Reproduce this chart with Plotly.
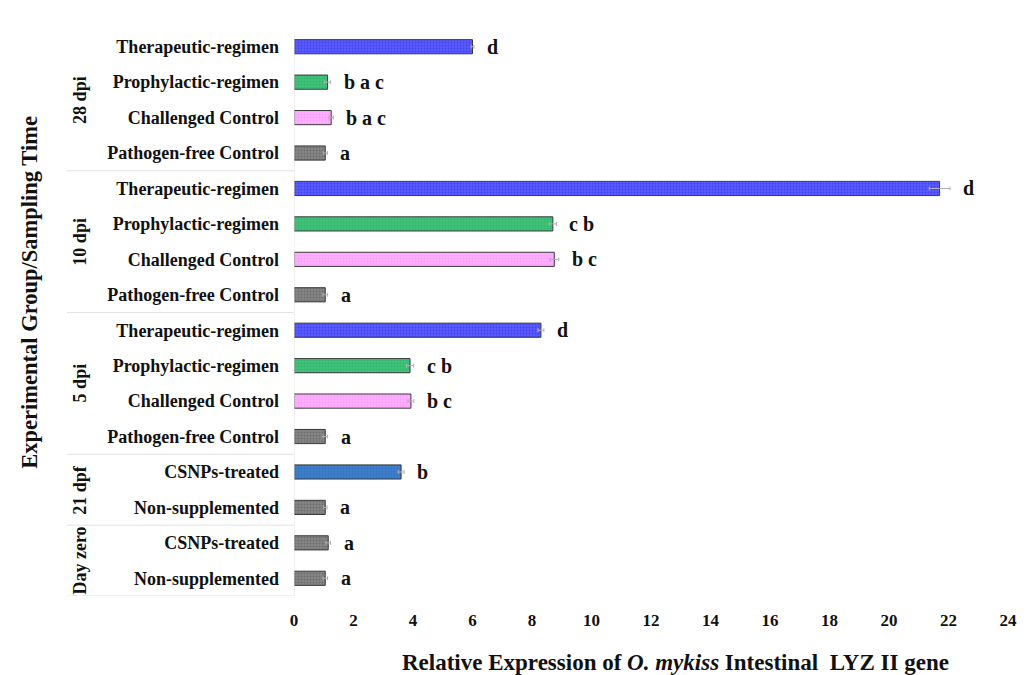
import plotly.graph_objects as go

# Rows listed bottom-to-top
groups = ["Day zero", "Day zero", "21 dpf", "21 dpf",
          "5 dpi", "5 dpi", "5 dpi", "5 dpi",
          "10 dpi", "10 dpi", "10 dpi", "10 dpi",
          "28 dpi", "28 dpi", "28 dpi", "28 dpi"]
treatments = ["Non-supplemented", "CSNPs-treated", "Non-supplemented", "CSNPs-treated",
              "Pathogen-free Control", "Challenged Control", "Prophylactic-regimen", "Therapeutic-regimen",
              "Pathogen-free Control", "Challenged Control", "Prophylactic-regimen", "Therapeutic-regimen",
              "Pathogen-free Control", "Challenged Control", "Prophylactic-regimen", "Therapeutic-regimen"]
expression = [1.05, 1.15, 1.05, 3.6,
              1.05, 3.93, 3.9, 8.3,
              1.05, 8.75, 8.7, 21.7,
              1.05, 1.25, 1.13, 6.0]
errors = [0.08, 0.08, 0.06, 0.1,
          0.08, 0.1, 0.12, 0.1,
          0.08, 0.15, 0.12, 0.35,
          0.07, 0.07, 0.1, 0.05]
letters = ["a", "a", "a", "b",
           "a", "b c", "c b", "d",
           "a", "b c", "c b", "d",
           "a", "b a c", "b a c", "d"]
styles = ["gray", "gray", "gray", "csnp",
          "gray", "pink", "green", "blue",
          "gray", "pink", "green", "blue",
          "gray", "pink", "green", "blue"]
x_ticks = [0, 2, 4, 6, 8, 10, 12, 14, 16, 18, 20, 22, 24]

palette = {
    "gray":  dict(color="#858585", fg="#555555"),
    "pink":  dict(color="#ffaeff", fg="#f090f0"),
    "green": dict(color="#3fc27a", fg="#2ea864"),
    "blue":  dict(color="#5a5cff", fg="#2a2ae0"),
    "csnp":  dict(color="#3d7fcc", fg="#2a64b0"),
}

SERIF = "Liberation Serif"
rows = list(range(len(treatments)))

fig = go.Figure()
for key, sty in palette.items():
    idx = [i for i in rows if styles[i] == key]
    fig.add_trace(go.Bar(
        orientation="h",
        y=[rows[i] for i in idx],
        x=[expression[i] for i in idx],
        width=0.4,
        marker=dict(
            color=sty["color"],
            line=dict(color="#3a3a3a", width=1),
            pattern=dict(shape=".", size=3, solidity=0.35,
                         fgcolor=sty["fg"], fillmode="overlay"),
        ),
        error_x=dict(type="data", array=[errors[i] for i in idx],
                     color="#b0b0b0", thickness=1, width=2),
        showlegend=False,
        hoverinfo="skip",
    ))

# significance letters to the right of each bar
for i in rows:
    fig.add_annotation(
        x=expression[i] + errors[i], y=rows[i], xref="x", yref="y",
        text="<b>" + letters[i] + "</b>", showarrow=False,
        xanchor="left", yanchor="middle", xshift=11,
        font=dict(family=SERIF, size=20, color="#111"),
    )

# sampling-time group labels and separators
plot_left, plot_w = 294, 714
def px_to_paper(px):
    return (px - plot_left) / plot_w

order = []
for g in groups:
    if g not in order:
        order.append(g)
for g in order:
    idx = [i for i in rows if groups[i] == g]
    lo, hi = min(idx), max(idx)
    fig.add_annotation(
        x=px_to_paper(80), y=(lo + hi) / 2, xref="paper", yref="y",
        text="<b>" + g + "</b>", textangle=-90, showarrow=False,
        xanchor="center", yanchor="middle",
        font=dict(family=SERIF, size=18, color="#111"),
    )
    fig.add_shape(type="line", xref="paper", yref="y",
                  x0=px_to_paper(67), x1=0, y0=lo - 0.5, y1=lo - 0.5,
                  line=dict(color="#e2e2e2", width=1))

fig.add_shape(type="line", xref="x", yref="paper", x0=0, x1=0, y0=0, y1=0.99,
              line=dict(color="#e2e2e2", width=1))

fig.add_annotation(
    x=px_to_paper(30), y=0.535, xref="paper", yref="paper",
    text="<b>Experimental Group/Sampling Time</b>", textangle=-90,
    showarrow=False, xanchor="center", yanchor="middle",
    font=dict(family=SERIF, size=22.5, color="#111"),
)
fig.add_annotation(
    x=px_to_paper(675), y=-0.118, xref="paper", yref="paper",
    text="<b>Relative Expression of <i>O. mykiss</i> Intestinal  LYZ II gene</b>",
    showarrow=False, xanchor="center", yanchor="middle",
    font=dict(family=SERIF, size=23, color="#111"),
)

fig.update_layout(
    width=1030, height=675,
    margin=dict(l=294, r=22, t=29, b=79),
    paper_bgcolor="white", plot_bgcolor="white",
    bargap=0.6,
    xaxis=dict(range=[0, 24], tickvals=x_ticks,
               ticktext=["<b>%d</b>" % v for v in x_ticks],
               showgrid=False, zeroline=False, showline=False,
               ticks="", ticklabelstandoff=12,
               tickfont=dict(family=SERIF, size=17, color="#111")),
    yaxis=dict(range=[-0.5, 15.5], tickvals=rows,
               ticktext=["<b>" + t + "</b>" for t in treatments],
               showgrid=False, zeroline=False, showline=False,
               ticks="", ticklabelstandoff=14,
               tickfont=dict(family=SERIF, size=18, color="#111")),
)

fig.write_html("out.html")
